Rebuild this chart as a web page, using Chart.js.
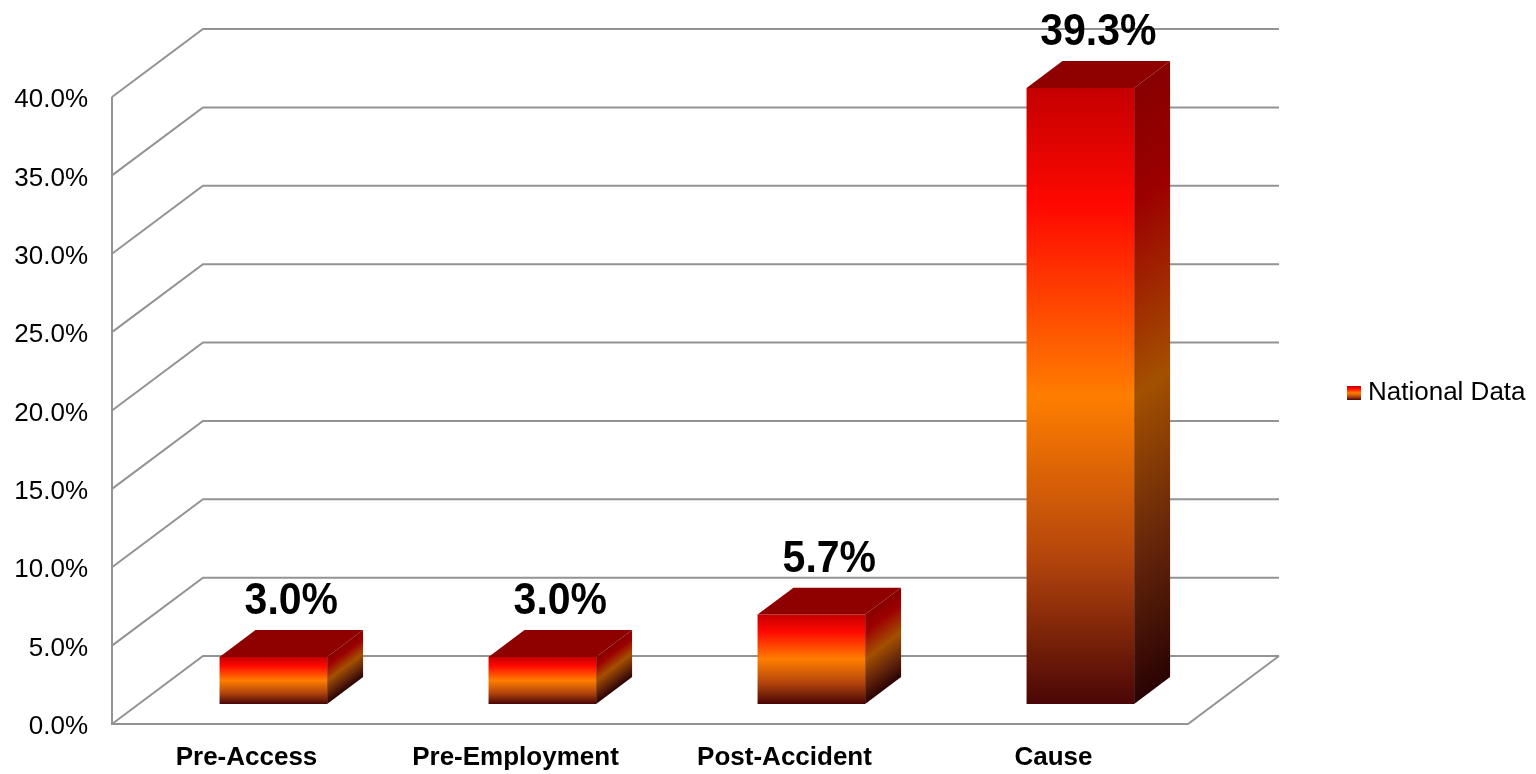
<!DOCTYPE html>
<html>
<head>
<meta charset="utf-8">
<script src="https://cdn.jsdelivr.net/npm/chart.js@4/dist/chart.umd.min.js"></script>
<style>
  html, body { margin: 0; padding: 0; background: #fff; }
  canvas { display: block; }
</style>
</head>
<body>
<canvas id="myChart" width="1536" height="774"></canvas>
<script>
// chart values
const categories = ["Pre-Access", "Pre-Employment", "Post-Accident", "Cause"];
const nationalData = [3.0, 3.0, 5.7, 39.3];
const seriesName = "National Data";
const axisMax = 40;
const axisStep = 5;

const FONT = "'Liberation Sans', Arial, sans-serif";

// 3D look: back wall offset and where the bars sit in the depth
const wallDX = 91, wallDY = -68;
const barFrontDepth = 0.295;
const barDepth = 0.395;

// colour ramps, top of the bar to the floor
const frontStops = [[0, "#c40000"], [0.19, "#ff0800"], [0.5, "#ff7e00"], [0.76, "#b5460c"], [1, "#4a0606"]];
const sideStops = [[0, "#870000"], [0.19, "#9c0000"], [0.5, "#a35000"], [0.76, "#66260a"], [1, "#2a0303"]];
const topColor = "#8f0000";

function ramp(ctx, x0, y0, x1, y1, stops) {
  const g = ctx.createLinearGradient(x0, y0, x1, y1);
  stops.forEach(([o, c]) => g.addColorStop(o, c));
  return g;
}

// gradient per bar, built from the y scale
function frontFill(context) {
  const chart = context.chart;
  if (!chart.chartArea || context.type !== "data") return "#ff0000";
  const y = chart.scales.y;
  const top = y.getPixelForValue(context.raw);
  const base = y.getPixelForValue(0);
  if (base - top < 1) return "#ff0000";
  return ramp(chart.ctx, 0, top, 0, base, frontStops);
}

const threeD = {
  id: "threeD",
  beforeDatasetsDraw(chart) {
    const { ctx, chartArea: a, scales: { y } } = chart;
    ctx.save();
    ctx.strokeStyle = "#939393";
    ctx.lineWidth = 2;
    // walls: one line per tick, front edge then back wall
    y.ticks.forEach((t) => {
      const py = y.getPixelForValue(t.value);
      ctx.beginPath();
      ctx.moveTo(a.left, py);
      ctx.lineTo(a.left + wallDX, py + wallDY);
      ctx.lineTo(a.right + wallDX, py + wallDY);
      ctx.stroke();
    });
    // left axis edge and floor
    ctx.beginPath();
    ctx.moveTo(a.left, a.top);
    ctx.lineTo(a.left, a.bottom);
    ctx.lineTo(a.right, a.bottom);
    ctx.lineTo(a.right + wallDX, a.bottom + wallDY);
    ctx.stroke();
    ctx.restore();

    // push the bar fronts back into the floor
    ctx.save();
    ctx.translate(wallDX * barFrontDepth, wallDY * barFrontDepth);
  },
  afterDatasetsDraw(chart) {
    const { ctx } = chart;
    const dx = wallDX * barDepth, dy = wallDY * barDepth;
    const meta = chart.getDatasetMeta(0);
    meta.data.forEach((bar, i) => {
      const { x, y: top, base, width } = bar.getProps(["x", "y", "base", "width"], true);
      const left = x - width / 2, right = x + width / 2;

      // side face, skewed so the colour bands follow the slope
      ctx.save();
      ctx.translate(right, 0);
      ctx.transform(1, dy / dx, 0, 1, 0, 0);
      ctx.fillStyle = ramp(ctx, 0, top, 0, base, sideStops);
      ctx.fillRect(0, top, dx, base - top);
      ctx.restore();

      // top face
      ctx.beginPath();
      ctx.moveTo(left, top);
      ctx.lineTo(right, top);
      ctx.lineTo(right + dx, top + dy);
      ctx.lineTo(left + dx, top + dy);
      ctx.closePath();
      ctx.fillStyle = topColor;
      ctx.fill();

      // value label above the top face, a little taller than wide
      ctx.save();
      ctx.translate(x + dx / 2, top + dy - 16);
      ctx.scale(1, 1.08);
      ctx.fillStyle = "#000";
      ctx.font = "bold 41px " + FONT;
      ctx.textAlign = "center";
      ctx.textBaseline = "alphabetic";
      ctx.fillText(nationalData[i].toFixed(1) + "%", 0, 0);
      ctx.restore();
    });
    ctx.restore();
  },
  afterDraw(chart) {
    // legend on the right
    const { ctx } = chart;
    const bx = 1347, by = 386, s = 14;
    ctx.save();
    ctx.fillStyle = ramp(ctx, 0, by, 0, by + s, frontStops);
    ctx.fillRect(bx, by, s, s);
    ctx.fillStyle = "#000";
    ctx.font = "26px " + FONT;
    ctx.textAlign = "left";
    ctx.textBaseline = "middle";
    ctx.fillText(seriesName, bx + s + 7, by + s / 2);
    ctx.restore();
  },
};

new Chart("myChart", {
  type: "bar",
  data: {
    labels: categories,
    datasets: [
      {
        label: seriesName,
        data: nationalData,
        backgroundColor: frontFill,
        borderWidth: 0,
        barPercentage: 0.4,
        categoryPercentage: 1.0,
      },
    ],
  },
  options: {
    responsive: false,
    animation: false,
    devicePixelRatio: 1,
    layout: { padding: { left: 0, top: 97, right: 348, bottom: 0 } },
    plugins: {
      legend: { display: false },
      tooltip: { enabled: false },
    },
    scales: {
      x: {
        grid: { display: false, drawTicks: false },
        border: { display: false },
        ticks: { color: "#000", padding: 18, font: { family: FONT, size: 26, weight: "bold" } },
        afterFit: (s) => { s.height = 50; },
      },
      y: {
        min: 0,
        max: axisMax,
        grid: { display: false, drawTicks: false },
        border: { display: false },
        ticks: {
          stepSize: axisStep,
          color: "#000",
          padding: 24,
          labelOffset: 3,
          font: { family: FONT, size: 26 },
          callback: (v) => v.toFixed(1) + "%",
        },
        afterFit: (s) => { s.width = 112; },
      },
    },
  },
  plugins: [threeD],
});
</script>
</body>
</html>
